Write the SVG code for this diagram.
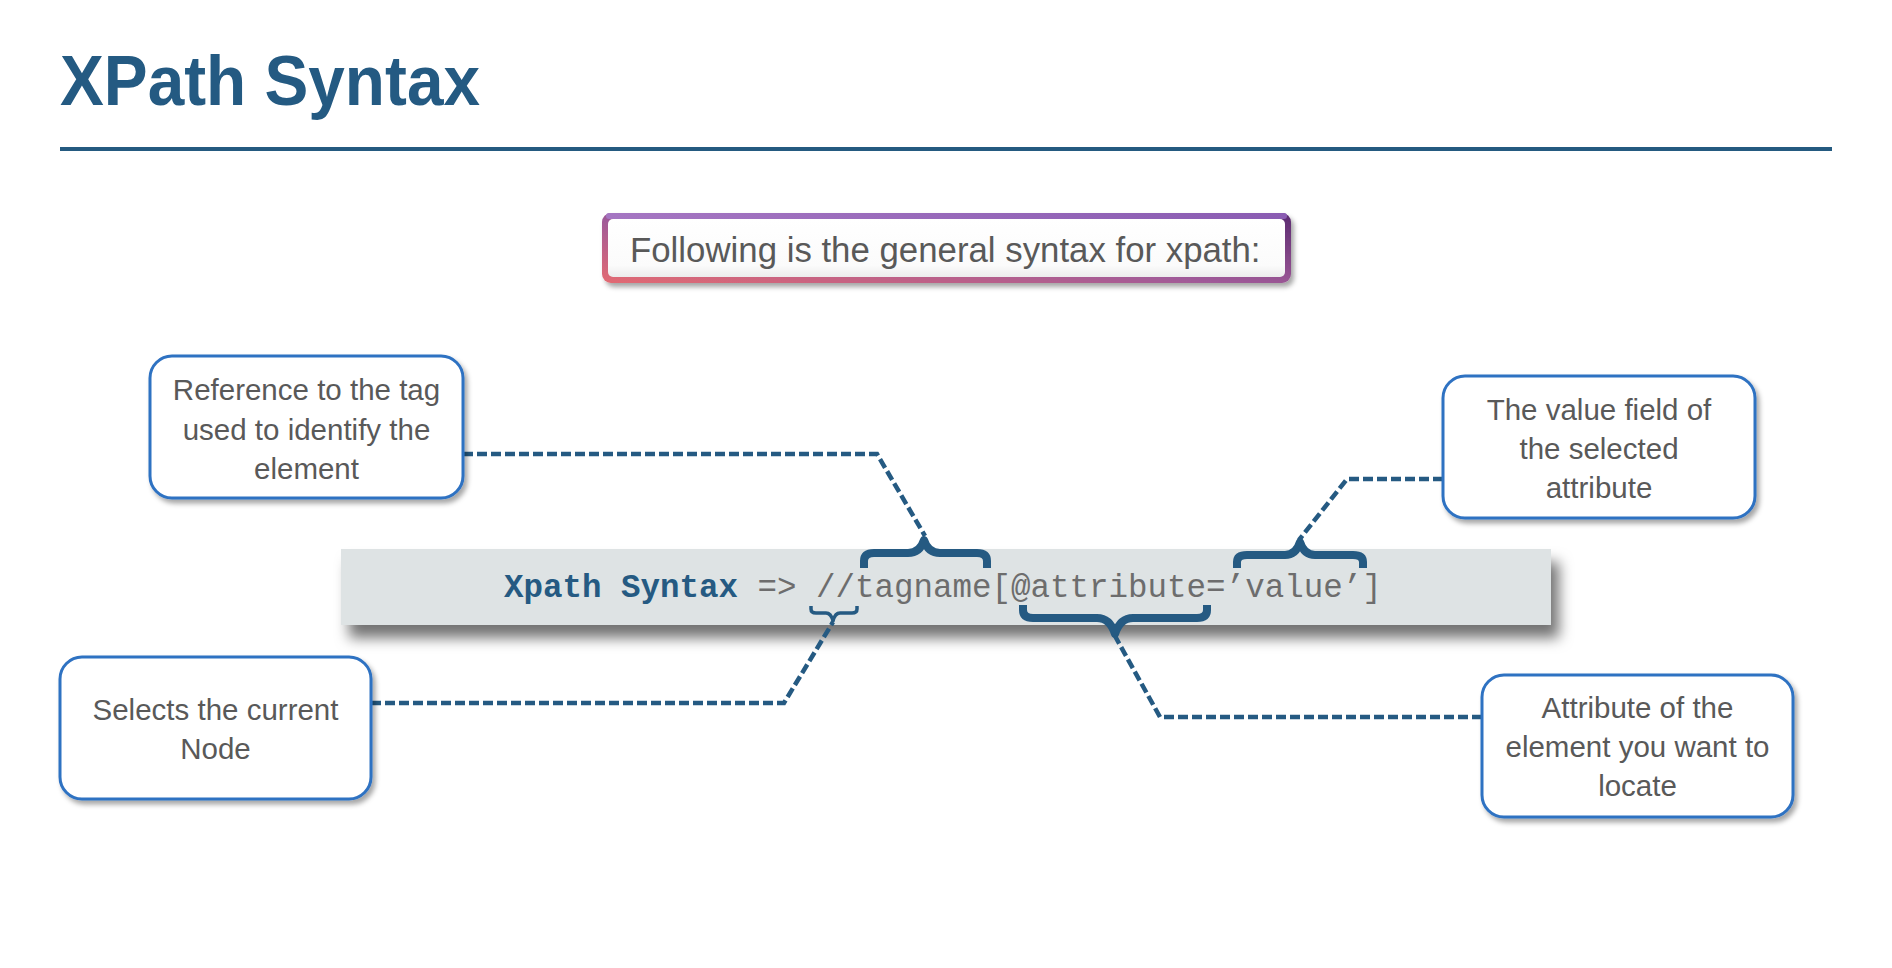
<svg xmlns="http://www.w3.org/2000/svg" width="1892" height="968" viewBox="0 0 1892 968">
<defs>
  <filter id="shadow" x="-10%" y="-10%" width="130%" height="140%">
    <feDropShadow dx="3" dy="4" stdDeviation="2.5" flood-color="#000" flood-opacity="0.35"/>
  </filter>
  <filter id="bandShadow" x="-5%" y="-20%" width="115%" height="180%">
    <feDropShadow dx="8" dy="13" stdDeviation="7" flood-color="#000" flood-opacity="0.55"/>
  </filter>
  <linearGradient id="borderGrad" x1="0" y1="1" x2="1" y2="0">
    <stop offset="0" stop-color="#e36a72"/>
    <stop offset="0.45" stop-color="#a05a98"/>
    <stop offset="1" stop-color="#5a2a70"/>
  </linearGradient>
  <linearGradient id="topGrad" x1="0" y1="0" x2="1" y2="0">
    <stop offset="0" stop-color="#a576c2"/>
    <stop offset="1" stop-color="#8a5cb2"/>
  </linearGradient>
  <linearGradient id="innerGrad" x1="0" y1="0" x2="0" y2="1">
    <stop offset="0" stop-color="#ffffff"/>
    <stop offset="0.8" stop-color="#fbfbfb"/>
    <stop offset="1" stop-color="#ececec"/>
  </linearGradient>
  <style>
    .title { font-family: "Liberation Sans", Arial, sans-serif; font-weight: bold; font-size: 70px; fill: #245a82; }
    .label { font-family: "Liberation Sans", Arial, sans-serif; font-size: 29.5px; fill: #595959; text-anchor: middle; }
    .intro { font-family: "Liberation Sans", Arial, sans-serif; font-size: 34.8px; fill: #595959; }
    .code { font-family: "Liberation Mono", "Courier New", monospace; font-size: 32.5px; fill: #6d6d6d; }
    .codeb { font-weight: bold; fill: #255a82; }
    .box { fill: #ffffff; stroke: #2f72c2; stroke-width: 3; }
    .conn { fill: none; stroke: #255a82; stroke-width: 4.5; stroke-dasharray: 10 4; }
    .brace { fill: none; stroke: #255a82; stroke-width: 8; stroke-linejoin: round; }
    .brace-s { fill: none; stroke: #255a82; stroke-width: 3.5; stroke-linejoin: round; }
  </style>
</defs>
<rect x="0" y="0" width="1892" height="968" fill="#ffffff"/>

<g id="title">
  <text class="title" x="60" y="105" textLength="420" lengthAdjust="spacingAndGlyphs">XPath Syntax</text>
  <line x1="60" y1="149" x2="1832" y2="149" stroke="#245a80" stroke-width="4"/>
</g>

<g id="intro">
  <rect x="602" y="213" width="689" height="70" rx="9" fill="url(#borderGrad)" filter="url(#shadow)"/>
  <rect x="606" y="213" width="681" height="6" rx="3" fill="url(#topGrad)"/>
  <rect x="608" y="219" width="677" height="58" rx="5" fill="url(#innerGrad)"/>
  <text class="intro" x="630" y="262">Following is the general syntax for xpath:</text>
</g>

<g id="syntax">
  <rect x="341" y="549" width="1210" height="76" fill="#dee3e4" filter="url(#bandShadow)"/>
  <text class="code" x="504" y="597"><tspan class="codeb">Xpath Syntax</tspan> =&gt; //tagname[@attribute=’value’]</text>
</g>

<g id="braces">
  <path class="brace" d="M 864 568 V 561 Q 864 553 874 553 H 908 Q 920 553 924 540 Q 928 553 940 553 H 977 Q 987 553 987 561 V 568"/>
  <path class="brace-s" d="M 811 606 V 609 Q 811 613 816 613 H 826 Q 831 613 833 621 Q 835 613 840 613 H 852 Q 857 613 857 609 V 606"/>
  <path class="brace" d="M 1023 605 V 610 Q 1023 618 1033 618 H 1097 Q 1110 618 1115 634 Q 1120 618 1133 618 H 1197 Q 1207 618 1207 610 V 605"/>
  <path class="brace" d="M 1237 568 V 562 Q 1237 555 1247 555 H 1285 Q 1296 555 1300 542 Q 1304 555 1315 555 H 1353 Q 1363 555 1363 562 V 568"/>
</g>

<g id="connectors">
  <path class="conn" d="M 463 454 H 877 L 925 536"/>
  <path class="conn" d="M 371 703 H 784 L 833 622"/>
  <path class="conn" d="M 1443 479 H 1347 L 1299 540"/>
  <path class="conn" d="M 1482 717 H 1160 L 1115 636"/>
</g>

<g id="node-tag">
  <rect class="box" x="150" y="356" width="313" height="142" rx="22" filter="url(#shadow)"/>
  <text class="label" x="306.5" y="400">Reference to the tag</text>
  <text class="label" x="306.5" y="440">used to identify the</text>
  <text class="label" x="306.5" y="479">element</text>
</g>

<g id="node-current">
  <rect class="box" x="60" y="657" width="311" height="142" rx="22" filter="url(#shadow)"/>
  <text class="label" x="215.5" y="720">Selects the current</text>
  <text class="label" x="215.5" y="759">Node</text>
</g>

<g id="node-value">
  <rect class="box" x="1443" y="376" width="312" height="142" rx="22" filter="url(#shadow)"/>
  <text class="label" x="1599" y="420">The value field of</text>
  <text class="label" x="1599" y="459">the selected</text>
  <text class="label" x="1599" y="498">attribute</text>
</g>

<g id="node-attribute">
  <rect class="box" x="1482" y="675" width="311" height="142" rx="22" filter="url(#shadow)"/>
  <text class="label" x="1637.5" y="718">Attribute of the</text>
  <text class="label" x="1637.5" y="757">element you want to</text>
  <text class="label" x="1637.5" y="796">locate</text>
</g>
</svg>
